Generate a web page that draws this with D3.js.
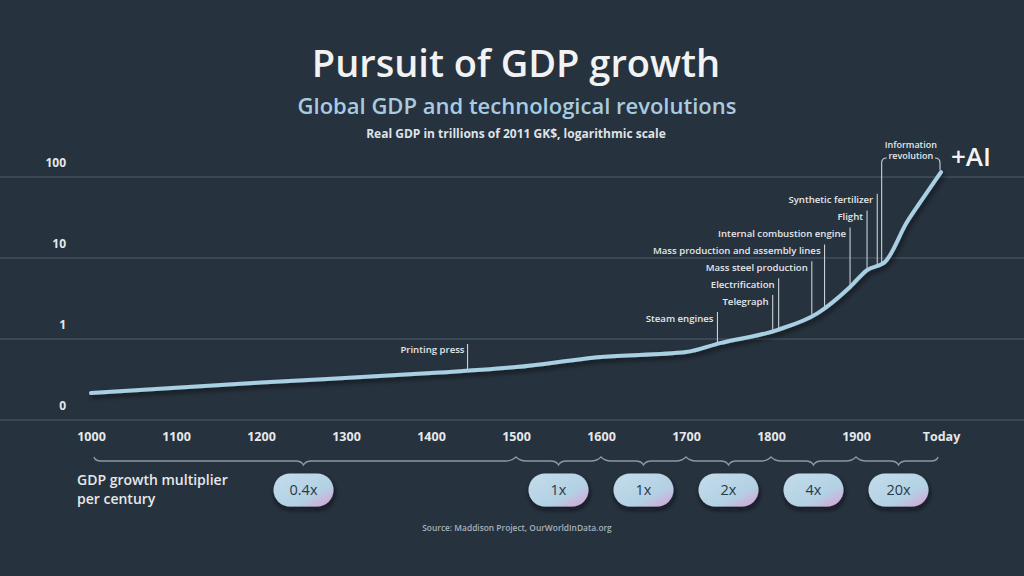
<!DOCTYPE html>
<html><head><meta charset="utf-8">
<script src="https://cdn.jsdelivr.net/npm/d3@7"></script>
<style>
html,body{margin:0;padding:0;background:#26323e;}
svg{display:block;}
text{font-family:"Open Sans","Noto Sans",sans-serif;}
</style></head>
<body>
<script>
// ---- data ----
const years = [1000, 1200, 1400, 1500, 1600, 1700, 1740, 1807, 1855, 1893, 1913, 1934, 1960, 1975, 2000];
const gdp   = [0.215, 0.29, 0.38, 0.45, 0.60, 0.69, 0.89, 1.29, 2.09, 4.39, 7.1, 8.9, 27.8, 47.8, 115];
const xTickValues = [1000,1100,1200,1300,1400,1500,1600,1700,1800,1900,2000];
const xTickLabels = ["1000","1100","1200","1300","1400","1500","1600","1700","1800","1900","Today"];
const yTickValues = [0.1, 1, 10, 100];
const yTickLabels = ["0","1","10","100"];
const eventNames = ["Steam engines","Telegraph","Electrification","Mass steel production","Mass production and assembly lines","Internal combustion engine","Flight","Synthetic fertilizer"];
const eventYears = [1737, 1802, 1809, 1848, 1863, 1893, 1913, 1925];
const printingPress = {name:"Printing press", year:1443};
const infoRev = {lines:["Information","revolution"], start:1929, end:2000};
const segStarts = [1000,1500,1600,1700,1800,1900];
const segEnds   = [1500,1600,1700,1800,1900,2000];
const segLabels = ["0.4x","1x","1x","2x","4x","20x"];

const W=1024,H=576;
const svg=d3.select("body").append("svg").attr("width",W).attr("height",H);
svg.append("rect").attr("width",W).attr("height",H).attr("fill","#26323e");

const defs=svg.append("defs");
const sh=defs.append("filter").attr("id","shadow").attr("x","-20%").attr("y","-20%").attr("width","140%").attr("height","160%");
sh.append("feDropShadow").attr("dx",2).attr("dy",3).attr("stdDeviation",2.5).attr("flood-color","#000").attr("flood-opacity",0.55);
const ps=defs.append("filter").attr("id","pshadow").attr("x","-30%").attr("y","-30%").attr("width","160%").attr("height","180%");
ps.append("feDropShadow").attr("dx",1).attr("dy",3).attr("stdDeviation",2.5).attr("flood-color","#0a1016").attr("flood-opacity",0.8);
const grad=defs.append("linearGradient").attr("id","pill").attr("x1",0).attr("y1",0).attr("x2",1).attr("y2",1);
grad.append("stop").attr("offset","0").attr("stop-color","#c3dcea");
grad.append("stop").attr("offset","0.65").attr("stop-color","#b3d1e4");
grad.append("stop").attr("offset","1").attr("stop-color","#d99fd6");

const x=d3.scaleLinear().domain([1000,2000]).range([91,941]);
const y=d3.scaleLog().domain([0.1,100]).range([420,177]);

// titles
svg.append("text").attr("x",516).attr("y",77).attr("text-anchor","middle")
  .attr("font-size",38).attr("font-weight",600).attr("fill","#f2f2f2").text("Pursuit of GDP growth");
svg.append("text").attr("x",517).attr("y",114).attr("text-anchor","middle")
  .attr("font-size",22).attr("font-weight",600).attr("fill","#a9cbe0").text("Global GDP and technological revolutions");
svg.append("text").attr("x",516).attr("y",138).attr("text-anchor","middle")
  .attr("font-size",12).attr("font-weight",700).attr("fill","#dfe3e7").text("Real GDP in trillions of 2011 GK$, logarithmic scale");

// gridlines + y labels
const yAxis=d3.axisLeft(y).tickValues(yTickValues).tickSize(0).tickFormat((d,i)=>yTickLabels[i]);
svg.append("g").selectAll("line").data(yTickValues).join("line")
  .attr("x1",0).attr("x2",W).attr("y1",d=>y(d)).attr("y2",d=>y(d))
  .attr("stroke","#3a4754").attr("stroke-width",2);
const gy=svg.append("g").attr("transform","translate(66,-14)").call(yAxis);
gy.select(".domain").remove();
gy.selectAll("text").attr("font-size",12).attr("font-weight",700).attr("fill","#e6e8ea")
  .attr("font-family","'Open Sans',sans-serif").attr("dx",0).attr("x",0);

// x axis labels
const xAxis=d3.axisBottom(x).tickValues(xTickValues).tickSize(0).tickFormat((d,i)=>xTickLabels[i]);
const gx=svg.append("g").attr("transform","translate(0,429)").call(xAxis);
gx.select(".domain").remove();
gx.selectAll("text").attr("font-size",12.5).attr("font-weight",700).attr("fill","#e6e8ea")
  .attr("font-family","'Open Sans',sans-serif");

// GDP value at year (log interpolation)
const data=years.map((yr,i)=>({yr,v:gdp[i]}));
function valAt(yr){
  for(let i=0;i<data.length-1;i++){
    if(yr>=data[i].yr && yr<=data[i+1].yr){
      const t=(yr-data[i].yr)/(data[i+1].yr-data[i].yr);
      return Math.exp(Math.log(data[i].v)*(1-t)+Math.log(data[i+1].v)*t);
    }
  }
  return data[data.length-1].v;
}

// annotations
const annoColor="#c9d1d8";
const afs=9.6;
const ag=svg.append("g");
const step=16.9;
eventNames.forEach((name,i)=>{
  const ly=318 - i*step;
  const xx=x(eventYears[i]);
  ag.append("line").attr("x1",xx).attr("x2",xx).attr("y1",ly-6).attr("y2",y(valAt(eventYears[i]))-1)
    .attr("stroke",annoColor).attr("stroke-width",1.1);
  ag.append("text").attr("x",xx-4).attr("y",ly+3.5).attr("text-anchor","end")
    .attr("font-size",afs).attr("font-weight",600).attr("fill","#e4e7ea").text(name);
});
{
  const xx=x(printingPress.year);
  ag.append("line").attr("x1",xx).attr("x2",xx).attr("y1",344).attr("y2",y(valAt(printingPress.year))-1)
    .attr("stroke",annoColor).attr("stroke-width",1.1);
  ag.append("text").attr("x",xx-3).attr("y",353).attr("text-anchor","end")
    .attr("font-size",afs).attr("font-weight",600).attr("fill","#e4e7ea").text(printingPress.name);
}
{
  const xl=x(infoRev.start)+1, xr=x(infoRev.end)-1;
  const yl=y(valAt(infoRev.start))-1, yr=y(valAt(infoRev.end))-2;
  ag.append("path").attr("d",`M${xl},${yl} L${xl},163 Q${xl},158 ${xl+5},158`)
    .attr("fill","none").attr("stroke",annoColor).attr("stroke-width",1.1);
  ag.append("path").attr("d",`M${xr},${yr} L${xr},163 Q${xr},158 ${xr-5},158`)
    .attr("fill","none").attr("stroke",annoColor).attr("stroke-width",1.1);
  const cx=(xl+xr)/2;
  infoRev.lines.forEach((t,i)=>{
    ag.append("text").attr("x",cx).attr("y",148+i*11).attr("text-anchor","middle")
      .attr("font-size",9).attr("font-weight",600).attr("fill","#e4e7ea").text(t);
  });
}
svg.append("text").attr("x",951).attr("y",166).attr("font-size",26).attr("font-weight",600)
  .attr("fill","#f4f4f4").text("+AI");

// GDP line
const line=d3.line().x(d=>x(d.yr)).y(d=>y(d.v)).curve(d3.curveMonotoneX);
svg.append("path").datum(data).attr("d",line).attr("fill","none")
  .attr("stroke","#a9cfe3").attr("stroke-width",4).attr("stroke-linecap","round")
  .attr("stroke-linejoin","round").attr("filter","url(#shadow)");

// brace
const by=461, bd=4;
let p=`M${x(1000)+3},${by-4} Q${x(1000)+4},${by} ${x(1000)+10},${by}`;
segStarts.forEach((s,i)=>{
  const x0=x(s), x1=x(segEnds[i]), m=(x0+x1)/2;
  if(i>0) p+=` Q${x0+4},${by} ${x0+10},${by}`;
  p+=` L${m-8},${by} Q${m-2},${by} ${m},${by+bd} Q${m+2},${by} ${m+8},${by}`;
  if(i<segStarts.length-1) p+=` L${x1-10},${by} Q${x1-4},${by} ${x1},${by-bd}`;
  else p+=` L${x1-10},${by} Q${x1-4},${by} ${x1-3},${by-4}`;
});
svg.append("path").attr("d",p).attr("fill","none").attr("stroke","#8b98a5").attr("stroke-width",1.4);

// pills
const pw=60, ph=33, pcy=490;
const pg=svg.append("g");
segLabels.forEach((lab,i)=>{
  const m=x((segStarts[i]+segEnds[i])/2);
  pg.append("rect").attr("x",m-pw/2).attr("y",pcy-ph/2).attr("width",pw).attr("height",ph)
    .attr("rx",ph/2).attr("fill","url(#pill)").attr("filter","url(#pshadow)");
  pg.append("text").attr("x",m).attr("y",pcy+5).attr("text-anchor","middle")
    .attr("font-size",14.5).attr("font-weight",500).attr("fill","#2b3947").text(lab);
});

svg.append("text").attr("x",77).attr("y",485).attr("font-size",14).attr("font-weight",600)
  .attr("fill","#e6e8ea").text("GDP growth multiplier");
svg.append("text").attr("x",77).attr("y",504).attr("font-size",14).attr("font-weight",600)
  .attr("fill","#e6e8ea").text("per century");

svg.append("text").attr("x",517).attr("y",531).attr("text-anchor","middle").attr("font-size",8.4)
  .attr("font-weight",600).attr("fill","#a7b1bb").text("Source: Maddison Project, OurWorldInData.org");
</script>
</body></html>
